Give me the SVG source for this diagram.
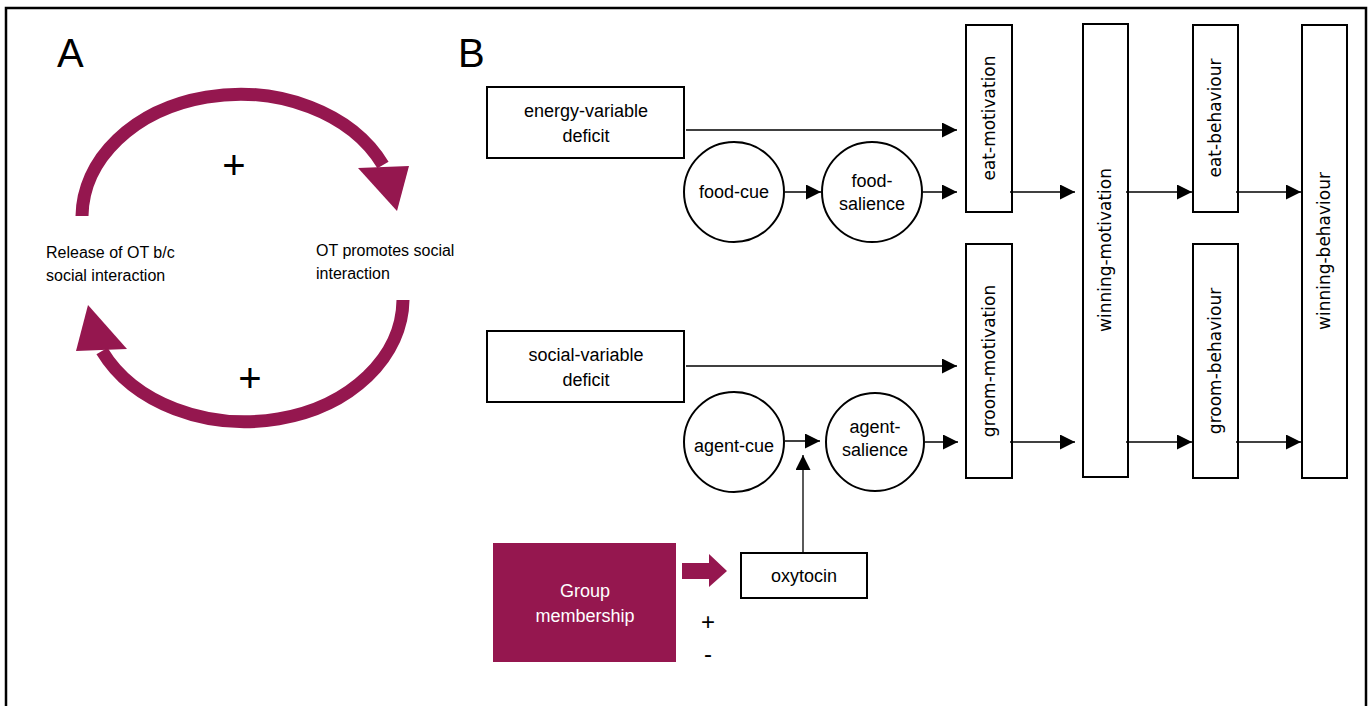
<svg xmlns="http://www.w3.org/2000/svg" width="1372" height="706" viewBox="0 0 1372 706">
<defs>
<marker id="ah" markerUnits="userSpaceOnUse" markerWidth="16" markerHeight="16" refX="15" refY="7.5" orient="auto">
<path d="M0,0 L15,7.5 L0,15 Z" fill="#000"/>
</marker>
<style>
.box{fill:#fff;stroke:#000;stroke-width:2}
.t{font-family:"Liberation Sans",Arial,sans-serif;font-size:18px;fill:#000;text-anchor:middle}
.ta{font-family:"Liberation Sans",Arial,sans-serif;font-size:16px;fill:#000}
.v{font-family:"DejaVu Sans",sans-serif;font-size:17px;fill:#000;text-anchor:middle;dominant-baseline:central}
.big{font-family:"Liberation Sans",Arial,sans-serif;font-size:40px;fill:#000}
.plus{font-family:"Liberation Sans",Arial,sans-serif;font-size:40px;fill:#000;text-anchor:middle}
.pm{font-family:"Liberation Sans",Arial,sans-serif;font-size:24px;fill:#000;text-anchor:middle}
.c{stroke:#000;stroke-width:1.3;fill:none}
.m{fill:#95174f}
</style>
</defs>
<rect x="0" y="0" width="1372" height="706" fill="#fff"/>
<rect x="6" y="8" width="1360" height="720" fill="none" stroke="#000" stroke-width="2.5"/>

<g id="panelA">
<text class="big" x="57" y="67">A</text>
<path d="M82,216 A158,123 0 0 1 383,165" fill="none" stroke="#95174f" stroke-width="13"/>
<polygon class="m" points="358,168 409,166 397,211"/>
<path d="M403,300 A158,123 0 0 1 102,351" fill="none" stroke="#95174f" stroke-width="13"/>
<polygon class="m" points="88,305 76,351 127,349"/>
<text class="plus" x="234" y="179">+</text>
<text class="plus" x="250" y="392">+</text>
<text class="ta" x="46" y="258">Release of OT b/c</text>
<text class="ta" x="46" y="281">social interaction</text>
<text class="ta" x="316" y="256">OT promotes social</text>
<text class="ta" x="316" y="279">interaction</text>
</g>

<text class="big" x="458" y="67">B</text>

<g id="energy-deficit">
<rect class="box" x="487" y="87" width="197" height="71"/>
<text class="t" x="586" y="117">energy-variable</text>
<text class="t" x="586" y="142">deficit</text>
</g>
<g id="social-deficit">
<rect class="box" x="487" y="331" width="197" height="71"/>
<text class="t" x="586" y="361">social-variable</text>
<text class="t" x="586" y="386">deficit</text>
</g>
<g id="food-cue">
<circle class="box" cx="734" cy="192" r="50"/>
<text class="t" x="734" y="198">food-cue</text>
</g>
<g id="food-salience">
<circle class="box" cx="872" cy="192" r="50"/>
<text class="t" x="872" y="187">food-</text>
<text class="t" x="872" y="210">salience</text>
</g>
<g id="agent-cue">
<circle class="box" cx="734" cy="442" r="50"/>
<text class="t" x="734" y="452">agent-cue</text>
</g>
<g id="agent-salience">
<circle class="box" cx="875" cy="442" r="49"/>
<text class="t" x="875" y="433">agent-</text>
<text class="t" x="875" y="456">salience</text>
</g>
<g id="eat-motivation">
<rect class="box" x="966" y="25" width="46" height="187"/>
<text class="v" transform="translate(989,118) rotate(-90)">eat-motivation</text>
</g>
<g id="groom-motivation">
<rect class="box" x="966" y="244" width="46" height="234"/>
<text class="v" transform="translate(989,361) rotate(-90)">groom-motivation</text>
</g>
<g id="winning-motivation">
<rect class="box" x="1083" y="24" width="45" height="453"/>
<text class="v" transform="translate(1105,250) rotate(-90)">winning-motivation</text>
</g>
<g id="eat-behaviour">
<rect class="box" x="1193" y="25" width="45" height="187"/>
<text class="v" transform="translate(1215,118) rotate(-90)">eat-behaviour</text>
</g>
<g id="groom-behaviour">
<rect class="box" x="1193" y="244" width="45" height="234"/>
<text class="v" transform="translate(1215,361) rotate(-90)">groom-behaviour</text>
</g>
<g id="winning-behaviour">
<rect class="box" x="1302" y="25" width="45" height="453"/>
<text class="v" transform="translate(1324,251) rotate(-90)">winning-behaviour</text>
</g>
<g id="oxytocin">
<rect class="box" x="741" y="553" width="126" height="45"/>
<text class="t" x="804" y="582">oxytocin</text>
</g>
<g id="group-membership">
<rect x="493" y="543" width="183" height="119" fill="#95174f"/>
<text class="t" x="585" y="597" style="fill:#fff">Group</text>
<text class="t" x="585" y="622" style="fill:#fff">membership</text>
</g>

<g id="connectors">
<line class="c" x1="686" y1="130" x2="957" y2="130" marker-end="url(#ah)"/>
<line class="c" x1="785" y1="192" x2="821" y2="192" marker-end="url(#ah)"/>
<line class="c" x1="923" y1="192" x2="957" y2="192" marker-end="url(#ah)"/>
<line class="c" x1="1010" y1="192" x2="1075" y2="192" marker-end="url(#ah)"/>
<line class="c" x1="1126" y1="192" x2="1192" y2="192" marker-end="url(#ah)"/>
<line class="c" x1="1236" y1="192" x2="1301" y2="192" marker-end="url(#ah)"/>
<line class="c" x1="686" y1="366" x2="957" y2="366" marker-end="url(#ah)"/>
<line class="c" x1="785" y1="441" x2="820" y2="441" marker-end="url(#ah)"/>
<line class="c" x1="925" y1="442" x2="958" y2="442" marker-end="url(#ah)"/>
<line class="c" x1="1010" y1="442" x2="1075" y2="442" marker-end="url(#ah)"/>
<line class="c" x1="1126" y1="442" x2="1192" y2="442" marker-end="url(#ah)"/>
<line class="c" x1="1236" y1="442" x2="1301" y2="442" marker-end="url(#ah)"/>
<line class="c" x1="803" y1="552" x2="803" y2="455" marker-end="url(#ah)"/>
<polygon class="m" points="682,563 709,563 709,554 727,571 709,587 709,579 682,579"/>
<text class="pm" x="708" y="630">+</text>
<text class="pm" x="708" y="662">-</text>
</g>
</svg>
